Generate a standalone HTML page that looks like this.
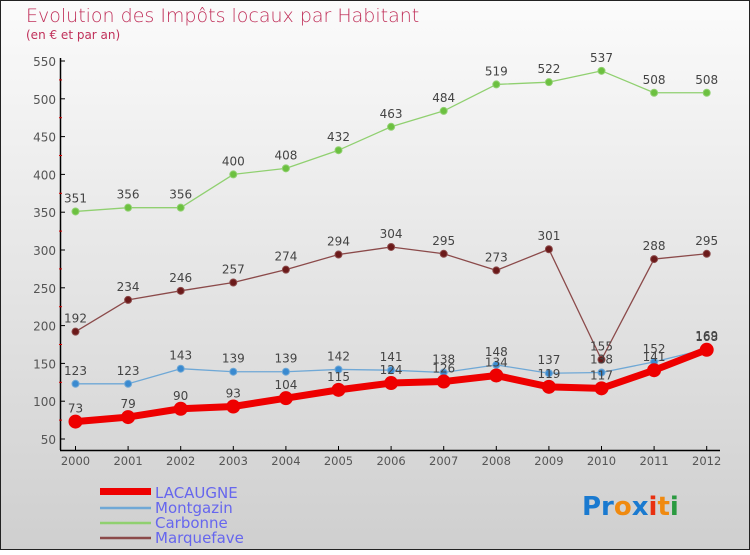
<!DOCTYPE html>
<html><head><meta charset="utf-8"><style>
body{margin:0;width:750px;height:550px;overflow:hidden}
svg text{font-family:"DejaVu Sans","Liberation Sans",sans-serif}
</style></head><body>
<svg id="chart" width="750" height="550" xmlns="http://www.w3.org/2000/svg">
<defs><linearGradient id="bg" x1="0" y1="0" x2="0" y2="1"><stop offset="0" stop-color="#fbfbfb"/><stop offset="1" stop-color="#cfcfcf"/></linearGradient></defs>
<rect x="0.5" y="0.5" width="749" height="549" fill="url(#bg)" stroke="#222"/>
<text x="26" y="22" font-size="19" fill="#c0305a" font-weight="300">Evolution des Impôts locaux par Habitant</text>
<text x="26" y="39" font-size="12" fill="#c0305a">(en € et par an)</text>
<g id="axes"></g><g id="series"></g>
<g>
<rect x="100" y="488" width="51" height="7" fill="#e00"/>
<text x="155" y="498" font-size="15" fill="#6666ee">LACAUGNE</text>
<line x1="100" y1="508" x2="151" y2="508" stroke="#6fa8d6" stroke-width="2.5"/>
<text x="155" y="513" font-size="15" fill="#6666ee">Montgazin</text>
<line x1="100" y1="523" x2="151" y2="523" stroke="#90d070" stroke-width="2.5"/>
<text x="155" y="528" font-size="15" fill="#6666ee">Carbonne</text>
<line x1="100" y1="538" x2="151" y2="538" stroke="#8b4a4a" stroke-width="2.5"/>
<text x="155" y="543" font-size="15" fill="#6666ee">Marquefave</text>
</g>
<text x="582" y="515" font-size="26" font-weight="bold"><tspan fill="#1a7ad0">Pr</tspan><tspan fill="#f08a10">o</tspan><tspan fill="#1a7ad0">x</tspan><tspan fill="#e83010">i</tspan><tspan fill="#f08a10">t</tspan><tspan fill="#2a9a40">i</tspan></text>
</svg>
<script>
const years=["2000","2001","2002","2003","2004","2005","2006","2007","2008","2009","2010","2011","2012"];
const lacaugne=[73,79,90,93,104,115,124,126,134,119,117,141,168];
const montgazin=[123,123,143,139,139,142,141,138,148,137,138,152,169];
const carbonne=[351,356,356,400,408,432,463,484,519,522,537,508,508];
const marquefave=[192,234,246,257,274,294,304,295,273,301,155,288,295];
const yTicks=[50,100,150,200,250,300,350,400,450,500,550];
const NS="http://www.w3.org/2000/svg";
const X=i=>75.5+i*52.6;
const Y=v=>439-(v-50)*0.756;
function mk(t,a,p){const e=document.createElementNS(NS,t);for(const k in a)e.setAttribute(k,a[k]);p.appendChild(e);return e;}
const ax=document.getElementById('axes');
let l=mk('line',{x1:60.5,y1:58,x2:60.5,y2:450,stroke:'#000','stroke-width':1.5},ax);


l=mk('line',{x1:60,y1:450.5,x2:720,y2:450.5,stroke:'#000','stroke-width':1.5},ax);


yTicks.forEach((v,i)=>{
 mk('line',{x1:60,y1:Y(v),x2:65,y2:Y(v),stroke:'#000'},ax);
 if(i<yTicks.length-1)mk('line',{x1:59,y1:Y(v+25),x2:62,y2:Y(v+25),stroke:'#d00'},ax);
 const t=mk('text',{x:56,y:Y(v)+5,'font-size':12,fill:'#555','text-anchor':'end'},ax);t.textContent=v;
 
 
});
years.forEach((y,i)=>{
 mk('line',{x1:X(i),y1:446,x2:X(i),y2:451,stroke:'#000'},ax);
 const t=mk('text',{x:X(i),y:465,'font-size':11.5,fill:'#555','text-anchor':'middle'},ax);t.textContent=y;
 
 
});
const sg=document.getElementById('series');
function draw(name,data,color,dot,w,r){
 const g=mk('g',{},sg);
 
 
 mk('polyline',{points:data.map((v,i)=>X(i)+','+Y(v)).join(' '),fill:'none',stroke:color,'stroke-width':w,'stroke-linejoin':'round'},g);
 data.forEach((v,i)=>{
  const c=mk('circle',{cx:X(i),cy:Y(v),r:r,fill:dot,stroke:color,'stroke-width':1},g);
  
  
  const t=mk('text',{x:X(i),y:Y(v)-9,'font-size':12,fill:'#444','text-anchor':'middle'},g);t.textContent=v;
  
  
 });
}
draw('carbonne',carbonne,'#90d070','#6cc040',1.3,3.5);
draw('marquefave',marquefave,'#8b4a4a','#6b1a1a',1.3,3.5);
draw('montgazin',montgazin,'#6fa8d6','#3a8ad0',1.3,3.5);
draw('lacaugne',lacaugne,'#ee0000','#ee0000',7,6.5);
</script>
</body></html>
